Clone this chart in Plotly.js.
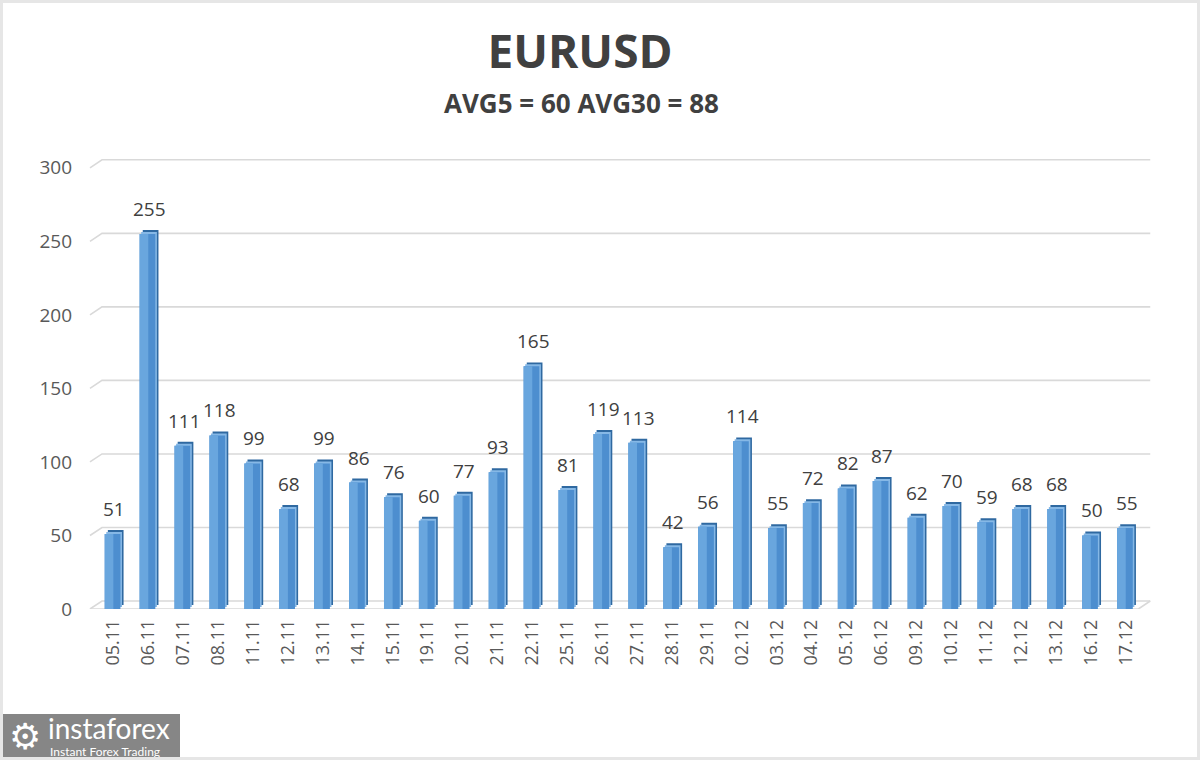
<!DOCTYPE html>
<html>
<head>
<meta charset="utf-8">
<script src="https://cdn.plot.ly/plotly-3.0.1.min.js"></script>
<style>
  html, body { margin: 0; padding: 0; background: #ffffff; }
  #wrap { position: relative; width: 1200px; height: 760px; }
  #chart { width: 1200px; height: 760px; }
  #frame { position: absolute; left: 0; top: 0; width: 1200px; height: 760px; box-sizing: border-box;
           border: 3px solid #e6e6e6; pointer-events: none; }
</style>
</head>
<body>
<div id="wrap"><div id="chart"></div><div id="frame"></div></div>
<script>
// ---- data ----
const categories = ["05.11","06.11","07.11","08.11","11.11","12.11","13.11","14.11","15.11","19.11",
                    "20.11","21.11","22.11","25.11","26.11","27.11","28.11","29.11","02.12","03.12",
                    "04.12","05.12","06.12","09.12","10.12","11.12","12.12","13.12","16.12","17.12"];
const values = [51,255,111,118,99,68,99,86,76,60,
                77,93,165,81,119,113,42,56,114,55,
                72,82,87,62,70,59,68,68,50,55];
const yTicks = [0,50,100,150,200,250,300];
const titleText = "EURUSD";
const subtitleText = "AVG5 = 60 AVG30 = 88";

// ---- layout geometry ----
const M = {l: 89, r: 48, t: 159, b: 151};
const W = 1200 - M.l - M.r, H = 760 - M.t - M.b;
const px2x = px => (px - M.l) / W;
const px2y = py => (760 - M.b - py) / H;
const depth = 5.44;      // back-wall offset in y units
const barW = 0.45, barOff = -0.25;

const common = {x: categories, y: values, type: 'bar', width: barW, hoverinfo: 'skip', showlegend: false};
const traces = [
  Object.assign({}, common, {offset: barOff + 0.09, base: 2.7, marker: {color: '#2f69a1', line: {width: 0}}}),
  Object.assign({}, common, {offset: barOff + 0.045, base: 1.35, marker: {color: '#86b8e6', line: {width: 0}}}),
  Object.assign({}, common, {offset: barOff, marker: {color: '#4d8ecf', line: {width: 0}}}),
  Object.assign({}, common, {offset: barOff, width: barW * 0.55, marker: {color: '#69a6de', line: {width: 0}}})
];

const gridColor = '#d9d9d9';
const shapes = [];
yTicks.forEach(v => {
  shapes.push({type: 'path', xref: 'x', yref: 'y', layer: 'below',
    path: `M -0.672,${v} L -0.328,${v + depth} L 29.7,${v + depth}`,
    line: {color: gridColor, width: 1.6}});
});
shapes.push({type: 'path', xref: 'x', yref: 'y', layer: 'below',
  path: `M -0.672,0 L 29.36,0 L 29.7,${depth}`, line: {color: gridColor, width: 1.6}});

// data labels: x given as category index (labels like "05.11" look numeric)
const annotations = values.map((v, i) => ({
  x: i, y: v, xref: 'x', yref: 'y', text: String(v), showarrow: false,
  yshift: 25, xshift: 1, yanchor: 'middle',
  font: {family: 'Open Sans, sans-serif', size: 19, color: '#404040'}
}));
annotations.push({
  xref: 'paper', yref: 'paper', x: px2x(581), y: px2y(103), xanchor: 'center', yanchor: 'middle',
  text: '<b>' + subtitleText + '</b>', showarrow: false,
  font: {family: 'Open Sans, sans-serif', size: 26, color: '#404040'}
});
// logo
shapes.push({type: 'rect', xref: 'paper', yref: 'paper', x0: px2x(2), x1: px2x(180), y0: px2y(714), y1: px2y(758),
  fillcolor: '#868686', line: {width: 0}, layer: 'above'});
annotations.push({xref: 'paper', yref: 'paper', x: px2x(25), y: px2y(736), xanchor: 'center', yanchor: 'middle',
  text: '⚙', showarrow: false, font: {family: 'DejaVu Sans', size: 36, color: '#ffffff'}});
annotations.push({xref: 'paper', yref: 'paper', x: px2x(46), y: px2y(728), xanchor: 'left', yanchor: 'middle',
  text: 'instaforex', showarrow: false, font: {family: 'Lato, sans-serif', size: 28, color: '#ffffff'}});
annotations.push({xref: 'paper', yref: 'paper', x: px2x(48), y: px2y(751), xanchor: 'left', yanchor: 'middle',
  text: 'Instant Forex Trading', showarrow: false, font: {family: 'Lato, sans-serif', size: 12, color: '#ffffff'}});

const layout = {
  width: 1200, height: 760,
  margin: M,
  paper_bgcolor: '#ffffff', plot_bgcolor: 'rgba(0,0,0,0)',
  barmode: 'overlay',
  title: {text: '<b>' + titleText + '</b>', x: 580 / 1200, xref: 'container', xanchor: 'center',
          y: 1 - 52 / 760, yref: 'container', yanchor: 'middle',
          font: {family: 'Open Sans, sans-serif', size: 46, color: '#404040'}},
  xaxis: {type: 'category', range: [-0.7, 29.75], showgrid: false, zeroline: false, showline: false,
          ticks: '', tickangle: -90, ticklabelstandoff: 6, fixedrange: true,
          tickfont: {family: 'Open Sans, sans-serif', size: 18, color: '#595959'}},
  yaxis: {range: [0, 306], tickvals: yTicks, ticktext: yTicks.map(String), showgrid: false, zeroline: false,
          showline: false, ticks: '', ticklabelstandoff: 16, fixedrange: true,
          tickfont: {family: 'Open Sans, sans-serif', size: 19, color: '#595959'}},
  shapes: shapes,
  annotations: annotations
};

Plotly.newPlot('chart', traces, layout, {displayModeBar: false, staticPlot: true});
</script>
</body>
</html>
